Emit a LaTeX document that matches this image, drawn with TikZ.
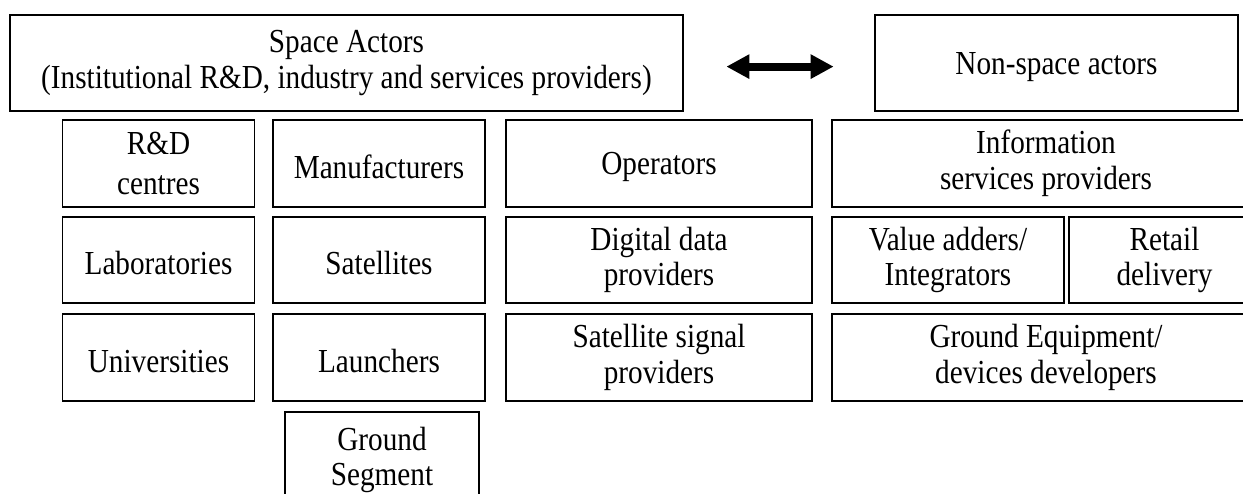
\documentclass[tikz,border=0pt]{standalone}
\usepackage{fontspec}
\setmainfont{Liberation Serif}[FakeStretch=0.87]
\usetikzlibrary{arrows.meta}
\begin{document}
\begin{tikzpicture}[x=0.5pt, y=-0.5pt,
    cell/.style 2 args={draw, line width=0.65pt, minimum width=#1*0.5pt,
        minimum height=#2*0.5pt, inner sep=0pt, align=center,
        font=\fontsize{16.8}{17.8}\selectfont,
        execute at begin node={\rule{0pt}{15pt}}},
    actor/.style 2 args={cell={#1}{#2}, line width=1.35pt},
    link/.style={line width=4pt,
        {Triangle[length=11.5pt,width=11.5pt]}-{Triangle[length=11.5pt,width=11.5pt]}}]
    \clip (0,0) rectangle (1243,493);
    % Hai nhom tac nhan
    \node[actor={673}{96}] (space) at (346.5,63) {Space Actors\\(Institutional R\&D, industry and services providers)};
    \node[actor={363}{96}] (nonspace) at (1056.5,63) {Non-space actors};
    \draw[link, shorten <=21pt, shorten >=20pt] ([yshift=-1.8pt]space.east) -- ([yshift=-1.8pt]nonspace.west);
    % Cot 1
    \node[cell={192}{87}] (rdc) at (158.5,163.5) {R\&D\\[2pt]centres};
    \node[cell={192}{86}] (labs) at (158.5,260) {Laboratories};
    \node[cell={192}{87}] (unis) at (158.5,357.5) {Universities};
    % Cot 2
    \node[cell={212}{87}] (manuf) at (379,163.5) {Manufacturers};
    \node[cell={212}{86}] (sats) at (379,260) {Satellites};
    \node[cell={212}{87}] (launch) at (379,357.5) {Launchers};
    \node[cell={194}{96}] (gseg) at (382,460) {Ground\\Segment};
    % Cot 3
    \node[cell={306}{87}] (oper) at (659,163.5) {Operators};
    \node[cell={306}{86}] (digital) at (659,260) {Digital data\\providers};
    \node[cell={306}{87}] (signal) at (659,357.5) {Satellite signal\\providers};
    % Cot 4
    \node[cell={428}{87}] (info) at (1046,163.5) {Information\\services providers};
    \node[cell={232}{86}] (value) at (948,260) {Value adders/\\Integrators};
    \node[cell={191}{86}] (retail) at (1164.5,260) {Retail\\delivery};
    \node[cell={428}{87}] (gequip) at (1046,357.5) {Ground Equipment/\\devices developers};
\end{tikzpicture}
\end{document}
